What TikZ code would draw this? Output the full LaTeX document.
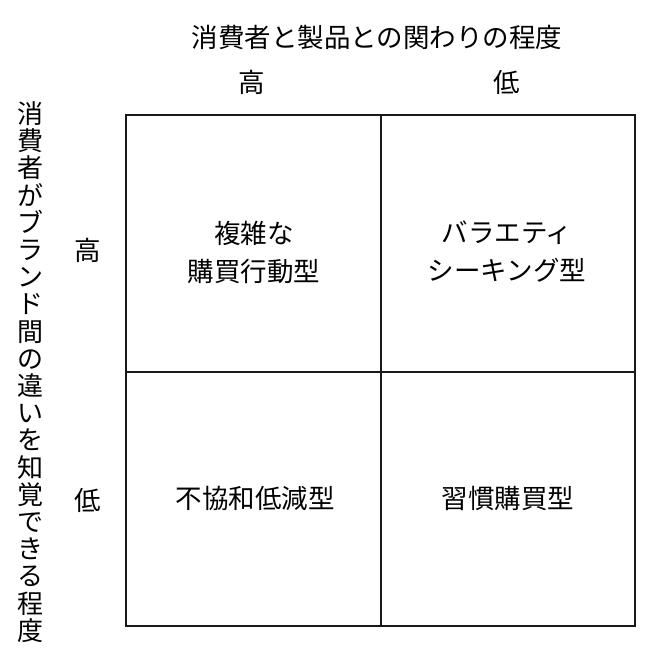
\documentclass[tikz,border=0pt]{standalone}
\usepackage{fontspec}
\setmainfont{Noto Sans CJK JP}
\usepackage{tikz}
\usetikzlibrary{calc}

\begin{document}
\begin{tikzpicture}[x=1pt, y=-1pt,
		lbl/.style={font=\fontsize{26.5}{38}\selectfont, align=center, inner sep=0pt},
		tate/.style={font=\fontsize{26}{27.2}\selectfont, align=center, inner sep=0pt},
		grid/.style={line width=2pt, color=black!90}]
		%%%%% START %%%%%
		
		\useasboundingbox (0, 0) rectangle (663, 660);
		
		\draw[grid] (126, 115) rectangle (635, 626);
		\draw[grid] (381, 115) -- (381, 626);
		\draw[grid] (126, 372) -- (635, 372);
		
		\node[lbl] (title) at (377, 37) {消費者と製品との関わりの程度};
		\node[lbl] (colhi) at (252, 82) {高};
		\node[lbl] (collo) at (507, 82) {低};
		
		\node[tate] (side) at (30, 372) {消\\費\\者\\が\\ブ\\ラ\\ン\\ド\\間\\の\\違\\い\\を\\知\\覚\\で\\き\\る\\程\\度};
		\node[lbl] (rowhi) at (88, 250) {高};
		\node[lbl] (rowlo) at (88, 500) {低};
		
		\node[lbl] (complex) at (254, 252) {複雑な\\購買行動型};
		\node[lbl] (variety) at (507, 252) {バラエティ\\シーキング型};
		\node[lbl] (dissonance) at (255, 498) {不協和低減型};
		\node[lbl] (habit) at (508, 498) {習慣購買型};
		
		%%%%% END %%%%%
\end{tikzpicture}
\end{document}
